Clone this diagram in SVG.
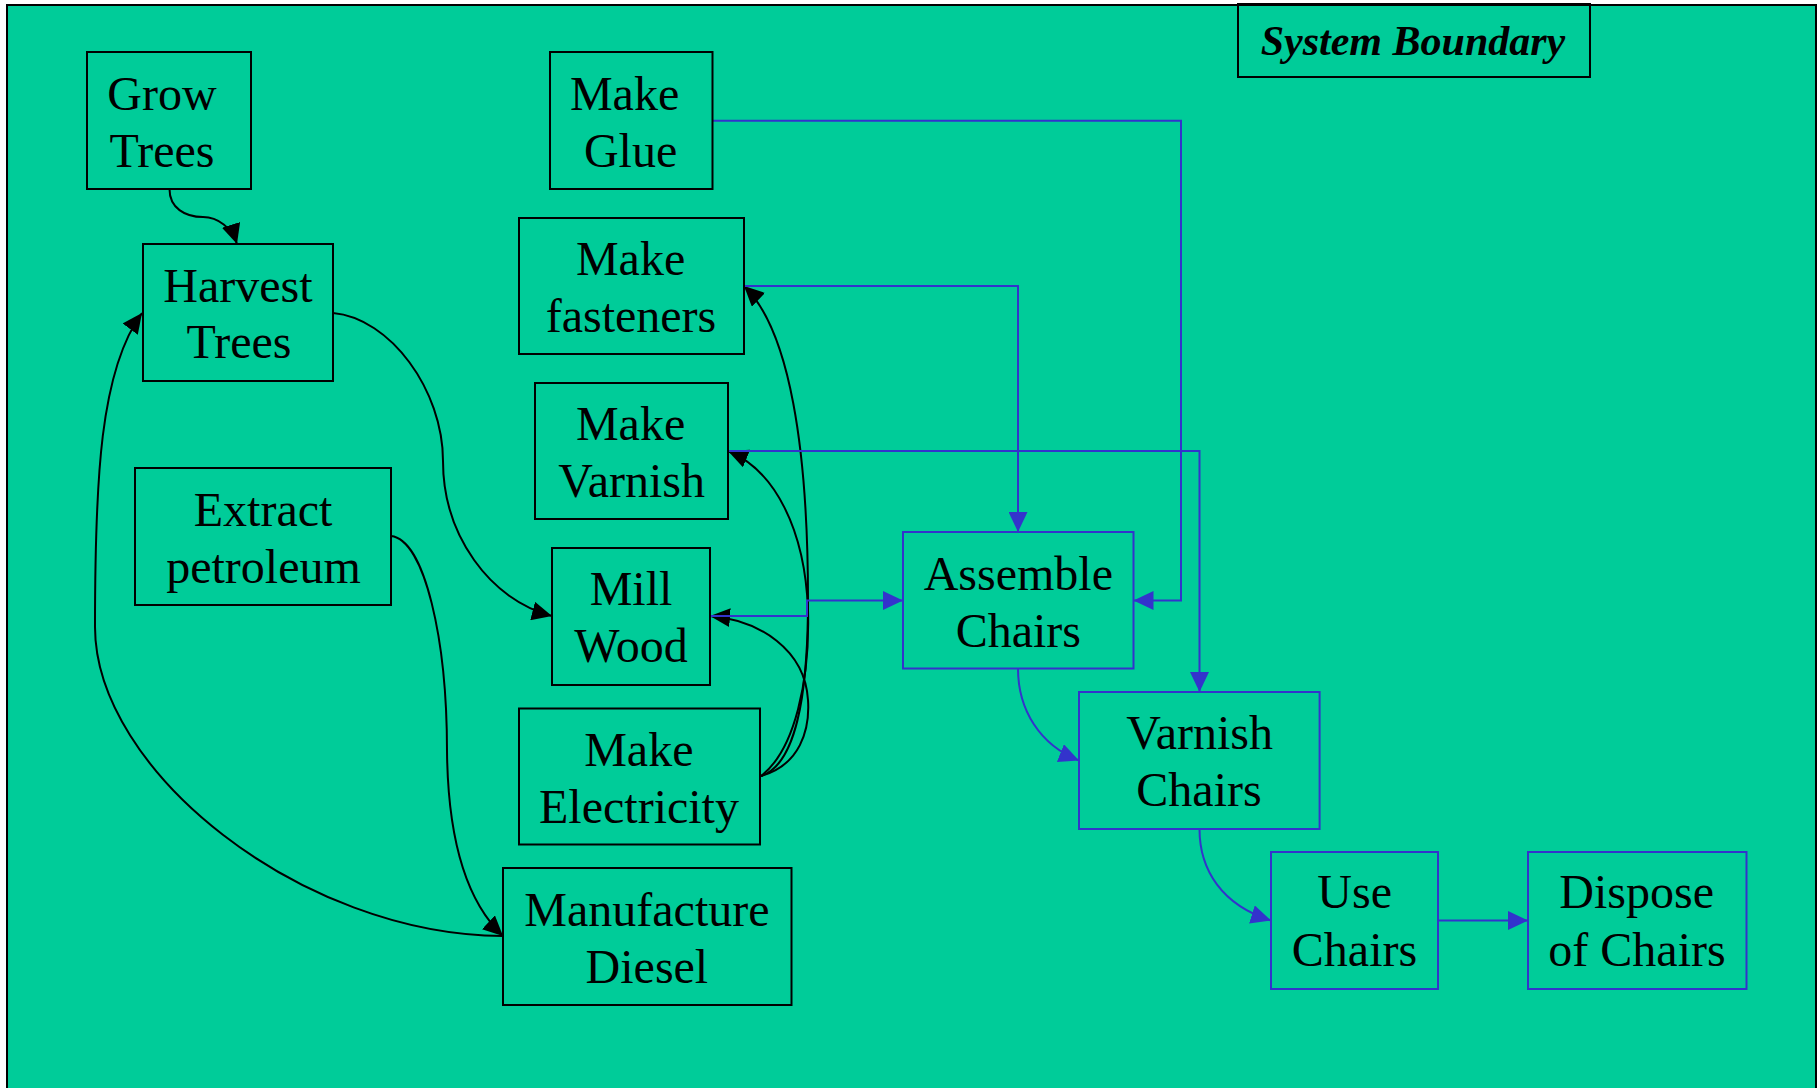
<svg xmlns="http://www.w3.org/2000/svg" width="1818" height="1088" viewBox="0 0 1818 1088">
<style>
.bg{fill:#00CC99;stroke:#000;stroke-width:2}
.n rect{fill:#00CC99;stroke:#000;stroke-width:2}
.n.b rect{stroke:#3333CC}
.n text{font-family:"Liberation Serif","Times New Roman",serif;font-size:48px;fill:#000;text-anchor:middle}
.t{font-family:"Liberation Serif","Times New Roman",serif;font-size:42px;font-weight:bold;font-style:italic;fill:#000;text-anchor:middle}
.k{fill:none;stroke:#000;stroke-width:2}
.u{fill:none;stroke:#3333CC;stroke-width:2}
</style>
<defs>
<marker id="ak" markerUnits="userSpaceOnUse" markerWidth="20" markerHeight="19" refX="20" refY="9.5" orient="auto" viewBox="0 0 20 19"><path d="M0,0 L20,9.5 L0,19 z" fill="#000"/></marker>
<marker id="au" markerUnits="userSpaceOnUse" markerWidth="20" markerHeight="19" refX="20" refY="9.5" orient="auto" viewBox="0 0 20 19"><path d="M0,0 L20,9.5 L0,19 z" fill="#3333CC"/></marker>
</defs>
<rect class="bg" x="7" y="5" width="1809" height="1095"/>
<g id="boundary-label">
<rect x="1238" y="4" width="352" height="73" fill="none" stroke="#000" stroke-width="2"/>
<text class="t" x="1413" y="55">System Boundary</text>
</g>
<g id="connectors">
<path class="k" d="M169.5,189 C169.5,208 185,217 203,217 C218,217 232,228 237,244" marker-end="url(#ak)"/>
<path class="k" d="M333,313 C390,318 443,390 443,461 C443,535 490,600 552,616" marker-end="url(#ak)"/>
<path class="k" d="M391,536 C425,540 447,640 447,751 C448,850 470,905 503,936" marker-end="url(#ak)"/>
<path class="k" d="M503,936 C300,935 95,770 95,627 C95,480 100,370 142,313" marker-end="url(#ak)"/>
<path class="k" d="M761,776 C795,765 808,700 808,600 C808,450 790,330 744,286" marker-end="url(#ak)"/>
<path class="k" d="M761,776 C795,750 810,680 808,610 C805,530 775,470 728,451" marker-end="url(#ak)"/>
<path class="k" d="M761,776 C800,765 810,730 808,700 C805,650 760,620 710,616" marker-end="url(#ak)"/>
<path class="u" d="M710,616 H807 V600.5 H903" marker-end="url(#au)"/>
<path class="u" d="M744,286 H1018 V532" marker-end="url(#au)"/>
<path class="u" d="M712.5,120.7 H1181 V600.5 H1133.5" marker-end="url(#au)"/>
<path class="u" d="M728,451 H1199.5 V692" marker-end="url(#au)"/>
<path class="u" d="M1018,668.5 C1018,710 1040,745 1079,760.5" marker-end="url(#au)"/>
<path class="u" d="M1199.5,829 C1199.5,870 1222,905 1271,920.5" marker-end="url(#au)"/>
<path class="u" d="M1438,920.5 H1528" marker-end="url(#au)"/>
</g>
<g id="grow-trees" class="n"><rect x="87" y="52" width="164" height="137"/><text x="162" y="110">Grow</text><text x="162" y="166.7">Trees</text></g>
<g id="harvest-trees" class="n"><rect x="143" y="244" width="190" height="137"/><text x="238" y="301.7">Harvest</text><text x="239" y="358.3">Trees</text></g>
<g id="make-glue" class="n"><rect x="550" y="52" width="162.5" height="137"/><text x="624.6" y="110">Make</text><text x="630.6" y="166.7">Glue</text></g>
<g id="make-fasteners" class="n"><rect x="519" y="218" width="225" height="136"/><text x="630.6" y="275">Make</text><text x="631" y="331.7">fasteners</text></g>
<g id="make-varnish" class="n"><rect x="535" y="383" width="193" height="136"/><text x="630.6" y="439.5">Make</text><text x="631.7" y="497.4">Varnish</text></g>
<g id="mill-wood" class="n"><rect x="552" y="548" width="158" height="137"/><text x="631" y="605.4">Mill</text><text x="631" y="662.4">Wood</text></g>
<g id="make-electricity" class="n"><rect x="519" y="708.5" width="241" height="136"/><text x="638.8" y="765.5">Make</text><text x="639" y="823.4">Electricity</text></g>
<g id="manufacture-diesel" class="n"><rect x="503" y="868" width="288.5" height="137"/><text x="646.9" y="925.7">Manufacture</text><text x="646.9" y="982.7">Diesel</text></g>
<g id="extract-petroleum" class="n"><rect x="135" y="468" width="256" height="137"/><text x="263.1" y="526">Extract</text><text x="263.5" y="583">petroleum</text></g>
<g id="assemble-chairs" class="n b"><rect x="903" y="532" width="230.5" height="136.5"/><text x="1018.3" y="589.6">Assemble</text><text x="1018.3" y="646.6">Chairs</text></g>
<g id="varnish-chairs" class="n b"><rect x="1079" y="692" width="240.6" height="137"/><text x="1199.7" y="749.3">Varnish</text><text x="1199" y="806">Chairs</text></g>
<g id="use-chairs" class="n b"><rect x="1271" y="852" width="167" height="137"/><text x="1354.7" y="908.3">Use</text><text x="1354.5" y="966">Chairs</text></g>
<g id="dispose-of-chairs" class="n b"><rect x="1528" y="852" width="218.5" height="137"/><text x="1636.7" y="908.3">Dispose</text><text x="1637" y="966">of Chairs</text></g>
</svg>
